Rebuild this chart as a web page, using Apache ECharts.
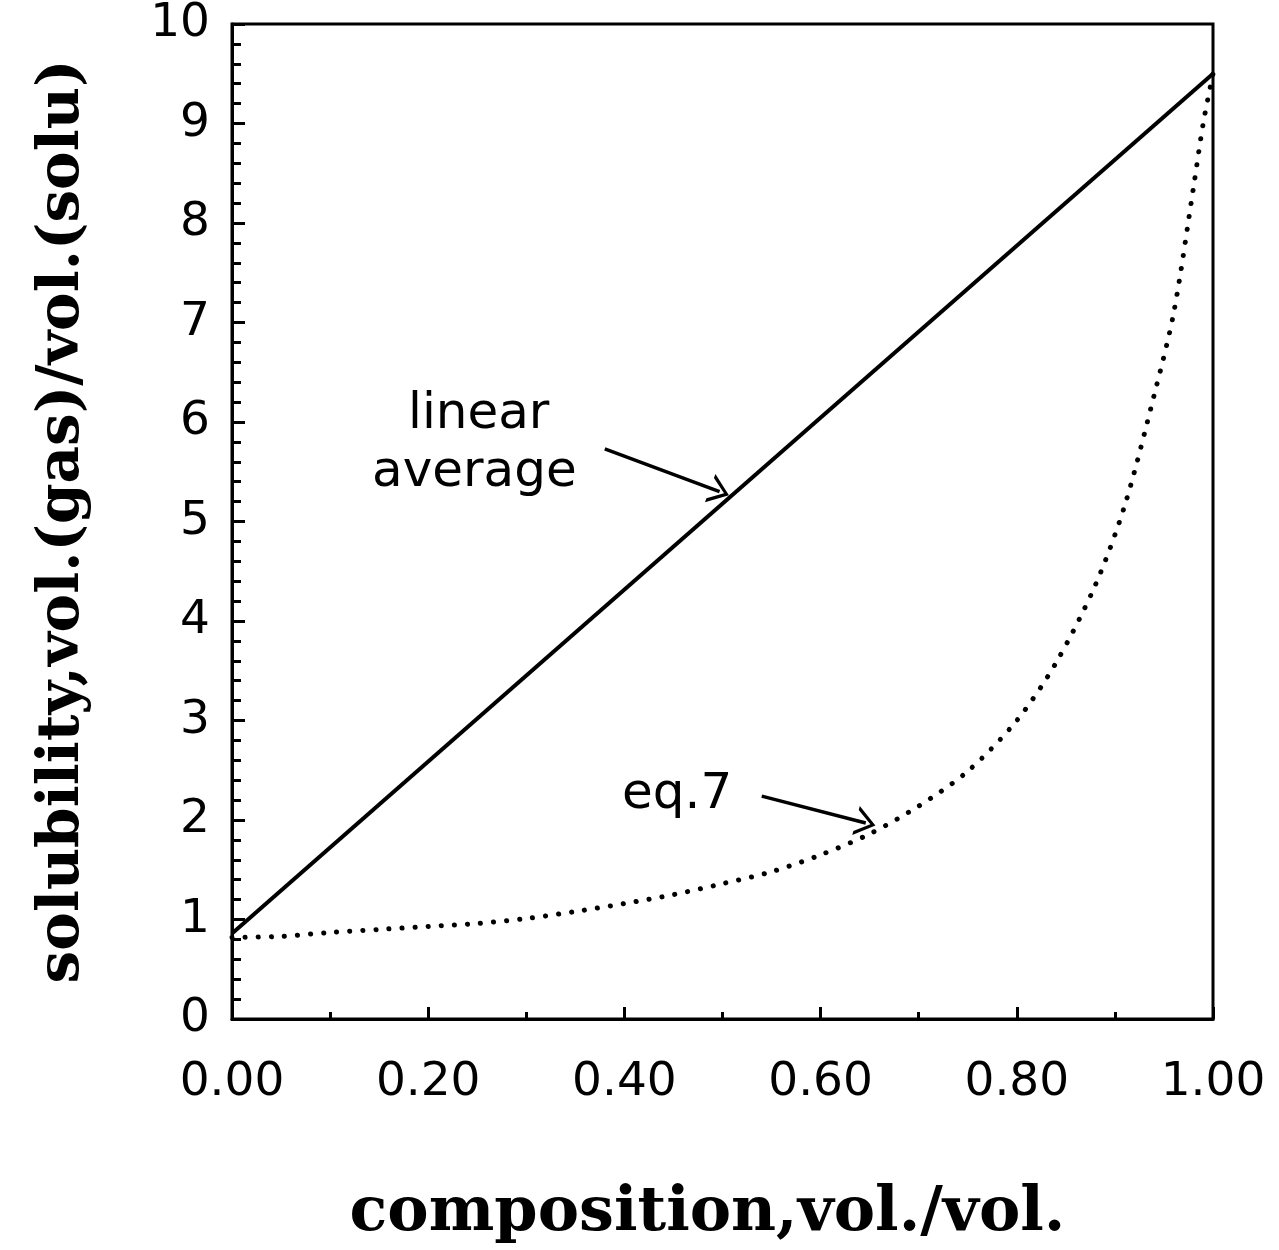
<!DOCTYPE html>
<html>
<head>
<meta charset="utf-8">
<script src="https://cdn.jsdelivr.net/npm/echarts@6/dist/echarts.min.js"></script>
<style>
  html, body { margin: 0; padding: 0; background: #fff; }
  #main { width: 1279px; height: 1250px; }
</style>
</head>
<body>
<div id="main"></div>
<script>
    // data
    var linearX = [0, 1.0];
    var linearY = [0.86, 9.5];

    var eqX = [0, 0.05, 0.10, 0.15, 0.20, 0.25, 0.30, 0.35, 0.40, 0.45, 0.50, 0.55, 0.60,
               0.65, 0.70, 0.75, 0.80, 0.84, 0.88, 0.91, 0.94, 0.96, 0.98, 0.99, 1.0];
    var eqY = [0.82, 0.83, 0.87, 0.90, 0.93, 0.96, 1.01, 1.08, 1.16, 1.25, 1.36, 1.48, 1.65,
               1.86, 2.14, 2.49, 3.00, 3.58, 4.36, 5.16, 6.27, 7.10, 8.35, 9.00, 9.5];

    // annotation arrows [x0, y0, x1, y1] in data units
    var arrowLinear = [0.380, 5.73, 0.497, 5.30];
    var arrowEq = [0.540, 2.24, 0.646, 1.97];

    function pairs(xs, ys) {
        var out = [];
        for (var i = 0; i < xs.length; i++) out.push([xs[i], ys[i]]);
        return out;
    }

    var chevron = 'path://M0,10 L5,0 L10,10 L8.6,10 L5,2.6 L1.4,10 Z';
    function arrowLine(a) {
        return {
            silent: true,
            symbol: ['none', chevron],
            symbolSize: [30, 20],
            lineStyle: { color: '#000', width: 3.5, type: 'solid' },
            label: { show: false },
            data: [[{ coord: [a[0], a[1]] }, { coord: [a[2], a[3]] }]]
        };
    }

    var labelFont = '"DejaVu Sans", sans-serif';
    var nameFont = '"DejaVu Serif", serif';

    var myChart = echarts.init(document.getElementById('main'));
    var option = {
        animation: false,
        backgroundColor: '#fff',
        grid: {
            left: 232, right: 66, top: 24, bottom: 229,
            show: true, borderColor: '#000', borderWidth: 3
        },
        xAxis: {
            type: 'value',
            min: 0, max: 1, interval: 0.2,
            name: 'composition,vol./vol.',
            nameLocation: 'middle',
            nameGap: 164,
            nameTextStyle: {
                fontFamily: nameFont, fontWeight: 'bold', fontSize: 62, color: '#000',
                padding: [0, 30, 0, 0]
            },
            axisLine: { lineStyle: { color: '#000', width: 3 } },
            axisTick: { inside: true, length: 12, lineStyle: { color: '#000', width: 3 } },
            minorTick: { show: true, splitNumber: 2, length: 7, lineStyle: { color: '#000', width: 3 } },
            splitLine: { show: false },
            axisLabel: {
                margin: 40,
                fontFamily: labelFont, fontSize: 47, color: '#000',
                formatter: function (v) { return v.toFixed(2); }
            }
        },
        yAxis: {
            type: 'value',
            min: 0, max: 10, interval: 1,
            name: 'solubility,vol.(gas)/vol.(solu)',
            nameLocation: 'middle',
            nameGap: 140,
            nameRotate: 90,
            nameTextStyle: { fontFamily: nameFont, fontWeight: 'bold', fontSize: 58, color: '#000' },
            axisLine: { lineStyle: { color: '#000', width: 3 } },
            axisTick: { inside: true, length: 13, lineStyle: { color: '#000', width: 3 } },
            minorTick: { show: true, splitNumber: 5, length: 9, lineStyle: { color: '#000', width: 3 } },
            splitLine: { show: false },
            axisLabel: {
                margin: 22,
                fontFamily: labelFont, fontSize: 47, color: '#000'
            }
        },
        series: [
            {
                name: 'linear average',
                type: 'line',
                data: pairs(linearX, linearY),
                showSymbol: false,
                lineStyle: { color: '#000', width: 4 },
                markLine: arrowLine(arrowLinear)
            },
            {
                name: 'eq.7',
                type: 'line',
                data: pairs(eqX, eqY),
                smooth: 0.3,
                showSymbol: false,
                lineStyle: { color: '#000', width: 5, type: [0.1, 13], cap: 'round' },
                markLine: arrowLine(arrowEq)
            }
        ],
        graphic: [
            { type: 'text', left: 408, top: 390, style: { text: 'linear', font: '50px ' + labelFont, fill: '#000' } },
            { type: 'text', left: 372, top: 448, style: { text: 'average', font: '50px ' + labelFont, fill: '#000' } },
            { type: 'text', left: 622, top: 770, style: { text: 'eq.7', font: '50px ' + labelFont, fill: '#000' } }
        ]
    };
    myChart.setOption(option);
</script>
</body>
</html>
